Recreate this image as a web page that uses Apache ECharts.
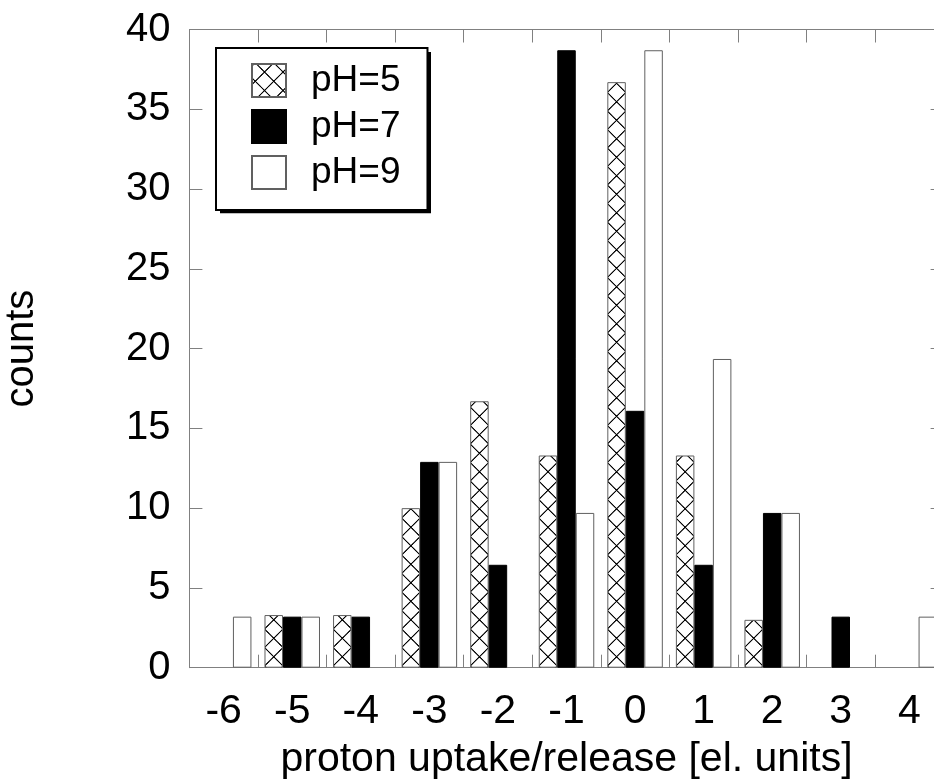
<!DOCTYPE html>
<html><head><meta charset="utf-8">
<script src="https://cdn.jsdelivr.net/npm/echarts@6/dist/echarts.min.js"></script>
<style>html,body{margin:0;padding:0;background:#fff}#c{width:934px;height:783px}</style>
</head><body><div id="c"></div>
<script>
const categories = ['-6','-5','-4','-3','-2','-1','0','1','2','3','4'];
const ph5 = [0, 3.3, 3.3, 10.0, 16.7, 13.3, 36.7, 13.3, 3.0, 0, 0];
const ph7 = [0, 3.2, 3.2, 12.9, 6.45, 38.7, 16.1, 6.45, 9.7, 3.2, 0];
const ph9 = [3.2, 3.2, 0, 12.9, 0, 9.7, 38.7, 19.35, 9.7, 0, 3.2];
const seriesNames = ['pH=5', 'pH=7', 'pH=9'];
const yMin = 0, yMax = 40, yStep = 5;
const xTitle = 'proton uptake/release [el. units]';
const yTitle = 'counts';

const FONT = '"Liberation Sans", Arial, Helvetica, sans-serif';
const AX = '#808080';
const BW = 18.5;

function hatchTile() {
  const s = 40;
  const c = document.createElement('canvas');
  c.width = s; c.height = s;
  const g = c.getContext('2d');
  g.fillStyle = '#fff'; g.fillRect(0, 0, s, s);
  g.strokeStyle = '#000'; g.lineWidth = 2.4;
  g.beginPath();
  for (const d of [-s, 0, s]) {
    g.moveTo(d - 6, -6); g.lineTo(d + s + 6, s + 6);
    g.moveTo(d + s + 6, -6); g.lineTo(d - 6, s + 6);
  }
  g.stroke();
  return c;
}
const TILE = hatchTile();
function hatch(x, y) {
  const k = BW / 40;
  return { image: TILE, repeat: 'repeat', x: x, y: y || 0, scaleX: k, scaleY: k };
}

const chart = echarts.init(document.getElementById('c'), null, { renderer: 'canvas' });

function axisCommon() {
  return {
    axisLine: { show: true, onZero: false, lineStyle: { color: AX, width: 1 } },
    axisTick: { show: true, inside: true, length: 13, lineStyle: { color: AX, width: 1 } },
    splitLine: { show: false }
  };
}

function items(arr, baseStyle, fn) {
  return arr.map(function (v, i) {
    const st = Object.assign({}, baseStyle, fn ? fn(i) : {});
    if (v === 0) { st.borderWidth = 0; st.opacity = 0; }
    return { value: v, itemStyle: st };
  });
}

const option = {
  animation: false,
  backgroundColor: '#fff',
  textStyle: { fontFamily: FONT },
  grid: { left: 189.4, top: 29.5, width: 754.2, height: 638.2, containLabel: false, outerBoundsMode: 'none' },
  graphic: [{
    type: 'rect', z: 0, zlevel: 0, silent: true,
    shape: { x: 220, y: 52, width: 211, height: 161.3 },
    style: { fill: '#000' }
  }],
  legend: {
    data: seriesNames,
    orient: 'vertical',
    left: 216, top: 48, z: 10,
    itemWidth: 34, itemHeight: 33, itemGap: 9,
    icon: 'rect',
    padding: [14, 27, 19, 35],
    backgroundColor: '#fff',
    borderColor: '#000', borderWidth: 2,
    selectedMode: false,
    textStyle: { fontSize: 37, color: '#000', fontFamily: FONT, padding: [0, 0, 0, 20] }
  },
  xAxis: [
    Object.assign(axisCommon(), {
      type: 'category', data: categories, position: 'bottom', boundaryGap: true,
      axisLabel: { interval: 0, fontSize: 41, color: '#000', margin: 23, fontFamily: FONT },
      name: xTitle, nameLocation: 'middle', nameGap: 71,
      nameTextStyle: { fontSize: 41, color: '#000', fontFamily: FONT }
    }),
    Object.assign(axisCommon(), {
      type: 'category', data: categories, position: 'top', boundaryGap: true,
      axisLabel: { show: false }
    })
  ],
  yAxis: [
    Object.assign(axisCommon(), {
      type: 'value', min: yMin, max: yMax, interval: yStep, position: 'left',
      axisLabel: { fontSize: 40, color: '#000', margin: 19, fontFamily: FONT },
      name: yTitle, nameLocation: 'middle', nameGap: 147, nameRotate: 90,
      nameTextStyle: { fontSize: 40, color: '#000', fontFamily: FONT }
    }),
    Object.assign(axisCommon(), {
      type: 'value', min: yMin, max: yMax, interval: yStep, position: 'right',
      axisLabel: { show: false }
    })
  ],
  series: [
    { name: seriesNames[0], type: 'bar', data: ph5, barWidth: BW, barGap: '0%',
      itemStyle: { color: hatch(253, 63.5), borderColor: '#606060', borderWidth: 1 } },
    { name: seriesNames[1], type: 'bar', barWidth: BW, barGap: '0%',
      data: items(ph7, { color: '#000', borderColor: '#000', borderWidth: 1 }),
      itemStyle: { color: '#000', borderColor: '#000', borderWidth: 1 } },
    { name: seriesNames[2], type: 'bar', barWidth: BW, barGap: '0%',
      data: items(ph9, { color: '#fff', borderColor: '#606060', borderWidth: 1 }),
      itemStyle: { color: '#fff', borderColor: '#606060', borderWidth: 1 } }
  ]
};
chart.setOption(option);

// align hatch pattern to each bar's left edge, using the library's own axis scale
const data5 = items(ph5, { borderColor: '#606060', borderWidth: 1 }, function (i) {
  const cx = chart.convertToPixel({ xAxisIndex: 0 }, i);
  return { color: hatch(cx - 1.5 * BW, 0) };
});
chart.setOption({ series: [{ data: data5 }] });
</script>
</body></html>
